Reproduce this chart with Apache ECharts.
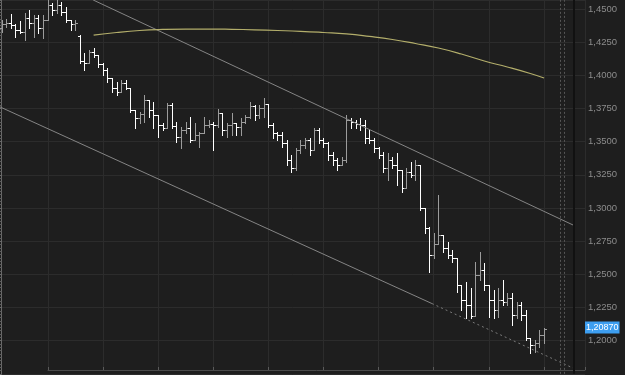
<!DOCTYPE html>
<html>
<head>
<meta charset="utf-8">
<script src="https://cdn.jsdelivr.net/npm/echarts@6.0.0/dist/echarts.min.js"></script>
<style>
    html, body { margin: 0; padding: 0; background: #1e1e1e; }
    #chart_main { width: 625px; height: 375px; }
</style>
</head>
<body>
<div id="chart_main"></div>
<script>
// bar prices (open / high / low / close), one entry per bar, left to right
var opens = [
    1.4357, 1.4387, 1.4395, 1.4380, 1.4342, 1.4327, 1.4432, 1.4395, 1.4432, 1.4357,
    1.4417, 1.4530, 1.4492, 1.4530, 1.4477, 1.4417, 1.4387, 1.4297, 1.4108, 1.4093,
    1.4176, 1.4153, 1.4086, 1.4040, 1.3980, 1.3905, 1.3875, 1.3942, 1.3905, 1.3739,
    1.3679, 1.3709, 1.3814, 1.3739, 1.3701, 1.3626, 1.3603, 1.3777, 1.3618, 1.3535,
    1.3588, 1.3603, 1.3513, 1.3550, 1.3566, 1.3626, 1.3633, 1.3626, 1.3716, 1.3588,
    1.3626, 1.3641, 1.3611, 1.3648, 1.3686, 1.3769, 1.3701, 1.3754, 1.3784, 1.3626,
    1.3566, 1.3550, 1.3490, 1.3362, 1.3302, 1.3437, 1.3475, 1.3513, 1.3437, 1.3588,
    1.3513, 1.3490, 1.3400, 1.3362, 1.3324, 1.3362, 1.3663, 1.3648, 1.3633, 1.3626,
    1.3528, 1.3513, 1.3453, 1.3400, 1.3302, 1.3362, 1.3324, 1.3287, 1.3151, 1.3272,
    1.3249, 1.3324, 1.3000, 1.2850, 1.2646, 1.2729, 1.2797, 1.2699, 1.2646, 1.2623,
    1.2420, 1.2307, 1.2269, 1.2186, 1.2495, 1.2533, 1.2420, 1.2307, 1.2231, 1.2307,
    1.2292, 1.2322, 1.2194, 1.2269, 1.2194, 1.2020, 1.1966, 1.1981, 1.2043
];
var highs = [
    1.4417, 1.4425, 1.4462, 1.4387, 1.4410, 1.4470, 1.4492, 1.4455, 1.4455, 1.4455,
    1.4565, 1.4545, 1.4565, 1.4553, 1.4515, 1.4417, 1.4417, 1.4304, 1.4168, 1.4191,
    1.4206, 1.4153, 1.4093, 1.4055, 1.3980, 1.3950, 1.3965, 1.3965, 1.3905, 1.3739,
    1.3724, 1.3852, 1.3814, 1.3799, 1.3701, 1.3641, 1.3792, 1.3792, 1.3648, 1.3611,
    1.3648, 1.3686, 1.3641, 1.3573, 1.3686, 1.3663, 1.3648, 1.3746, 1.3716, 1.3641,
    1.3716, 1.3641, 1.3679, 1.3701, 1.3799, 1.3777, 1.3777, 1.3829, 1.3784, 1.3641,
    1.3573, 1.3573, 1.3513, 1.3400, 1.3453, 1.3513, 1.3528, 1.3528, 1.3603, 1.3603,
    1.3528, 1.3498, 1.3422, 1.3377, 1.3385, 1.3701, 1.3679, 1.3663, 1.3679, 1.3663,
    1.3588, 1.3528, 1.3460, 1.3422, 1.3415, 1.3385, 1.3415, 1.3287, 1.3302, 1.3347,
    1.3362, 1.3324, 1.3000, 1.2857, 1.2812, 1.3098, 1.2797, 1.2744, 1.2684, 1.2623,
    1.2420, 1.2442, 1.2397, 1.2593, 1.2669, 1.2586, 1.2420, 1.2382, 1.2397, 1.2457,
    1.2360, 1.2360, 1.2292, 1.2292, 1.2231, 1.2020, 1.2005, 1.2080, 1.2096
];
var lows = [
    1.4327, 1.4364, 1.4357, 1.4289, 1.4319, 1.4266, 1.4357, 1.4289, 1.4319, 1.4281,
    1.4417, 1.4455, 1.4470, 1.4455, 1.4402, 1.4342, 1.4342, 1.4093, 1.4040, 1.4093,
    1.4138, 1.4063, 1.4003, 1.3950, 1.3875, 1.3852, 1.3875, 1.3897, 1.3724, 1.3603,
    1.3641, 1.3648, 1.3686, 1.3603, 1.3535, 1.3588, 1.3603, 1.3603, 1.3498, 1.3453,
    1.3566, 1.3498, 1.3513, 1.3460, 1.3566, 1.3611, 1.3437, 1.3611, 1.3550, 1.3535,
    1.3550, 1.3550, 1.3550, 1.3641, 1.3679, 1.3663, 1.3679, 1.3686, 1.3611, 1.3528,
    1.3513, 1.3460, 1.3324, 1.3272, 1.3287, 1.3415, 1.3453, 1.3400, 1.3437, 1.3490,
    1.3460, 1.3362, 1.3324, 1.3287, 1.3324, 1.3347, 1.3603, 1.3603, 1.3588, 1.3490,
    1.3490, 1.3422, 1.3377, 1.3272, 1.3211, 1.3302, 1.3174, 1.3121, 1.3151, 1.3234,
    1.3211, 1.2985, 1.2812, 1.2518, 1.2623, 1.2729, 1.2669, 1.2623, 1.2593, 1.2367,
    1.2231, 1.2171, 1.2171, 1.2186, 1.2457, 1.2382, 1.2179, 1.2171, 1.2179, 1.2269,
    1.2269, 1.2119, 1.2171, 1.2156, 1.2005, 1.1907, 1.1914, 1.1951, 1.1981
];
var closes = [
    1.4387, 1.4395, 1.4380, 1.4342, 1.4327, 1.4432, 1.4395, 1.4432, 1.4357, 1.4417,
    1.4530, 1.4492, 1.4530, 1.4477, 1.4417, 1.4387, 1.4395, 1.4108, 1.4093, 1.4176,
    1.4153, 1.4086, 1.4040, 1.3980, 1.3905, 1.3875, 1.3942, 1.3905, 1.3739, 1.3679,
    1.3709, 1.3814, 1.3739, 1.3701, 1.3626, 1.3603, 1.3777, 1.3618, 1.3535, 1.3588,
    1.3603, 1.3513, 1.3550, 1.3566, 1.3626, 1.3633, 1.3626, 1.3716, 1.3588, 1.3626,
    1.3641, 1.3611, 1.3648, 1.3686, 1.3769, 1.3701, 1.3754, 1.3784, 1.3626, 1.3566,
    1.3550, 1.3490, 1.3362, 1.3302, 1.3437, 1.3475, 1.3513, 1.3437, 1.3588, 1.3513,
    1.3490, 1.3400, 1.3362, 1.3324, 1.3362, 1.3663, 1.3648, 1.3633, 1.3626, 1.3528,
    1.3513, 1.3453, 1.3400, 1.3302, 1.3362, 1.3324, 1.3287, 1.3151, 1.3272, 1.3249,
    1.3324, 1.3000, 1.2850, 1.2646, 1.2729, 1.2797, 1.2699, 1.2646, 1.2623, 1.2420,
    1.2307, 1.2269, 1.2186, 1.2495, 1.2533, 1.2420, 1.2307, 1.2231, 1.2307, 1.2292,
    1.2322, 1.2194, 1.2269, 1.2194, 1.2020, 1.1966, 1.1981, 1.2043, 1.2087
];

// moving average (bar index, value)
var maIndex = [20, 25, 30, 35, 40, 45, 50, 55, 60, 65, 70, 75, 80, 85, 90, 95, 100, 105, 110, 115, 118];
var maValues = [1.4303, 1.4323, 1.4338, 1.4346, 1.4349, 1.4349, 1.4347, 1.4343, 1.4338, 1.4332,
    1.4323, 1.4312, 1.4293, 1.4270, 1.4240, 1.4206, 1.4161, 1.4108, 1.4063, 1.4014, 1.3980];

// channel lines, [bar position, price]
var upperTrend = [[19.9, 1.4568], [124.3, 1.2872]];
var lowerTrend = [[-0.37, 1.3762], [93.6, 1.2280]];
var lowerTrendExt = [[93.6, 1.2280], [124.3, 1.1794]];

var lastPrice = 1.2087;
var priceTicks = { min: 1.175, max: 1.45678, step: 0.025 };

var upColor = '#9c9c9c';
var downColor = '#ffffff';

initChart();

function initChart() {
    var myChart = echarts.init(document.getElementById('chart_main'));

    var bars = [];
    for (var i = 0; i < closes.length; i++) {
        bars.push([i, opens[i], highs[i], lows[i], closes[i]]);
    }
    var ma = [];
    for (var j = 0; j < maIndex.length; j++) {
        ma.push([maIndex[j], maValues[j]]);
    }

    function renderOhlc(params, api) {
        var x = api.value(0);
        var o = api.coord([x, api.value(1)]);
        var h = api.coord([x, api.value(2)]);
        var l = api.coord([x, api.value(3)]);
        var c = api.coord([x, api.value(4)]);
        var color = api.value(4) >= api.value(1) ? upColor : downColor;
        var px = Math.round(o[0]) + 0.5;
        var oy = Math.round(o[1]) + 0.5;
        var cy = Math.round(c[1]) + 0.5;
        var st = { stroke: color, lineWidth: 1 };
        return {
            type: 'group',
            children: [
                { type: 'line', shape: { x1: px, y1: Math.round(h[1]), x2: px, y2: Math.round(l[1]) + 1 }, style: st },
                { type: 'line', shape: { x1: px - 2.5, y1: oy, x2: px, y2: oy }, style: st },
                { type: 'line', shape: { x1: px, y1: cy, x2: px + 2.5, y2: cy }, style: st }
            ]
        };
    }

    var option = {
        backgroundColor: '#1e1e1e',
        animation: false,
        grid: [
            { left: 0, right: 40, top: 0, bottom: 1.13 },
            { left: 48, right: 40, top: 0, bottom: 5 }
        ],
        xAxis: [
            { type: 'value', gridIndex: 0, min: -0.37, max: 126.9, show: false },
            {
                type: 'value', gridIndex: 1, min: 0, max: 9.746, interval: 1,
                axisLine: { show: true, lineStyle: { color: '#4a4a4a' } },
                axisTick: { show: true, inside: true, length: 3, lineStyle: { color: '#5a5a5a' } },
                axisLabel: { show: false },
                splitLine: { show: true, lineStyle: { color: '#2c2c2c' } }
            }
        ],
        yAxis: [
            {
                type: 'value', gridIndex: 0, position: 'right',
                min: priceTicks.min, max: priceTicks.max, interval: priceTicks.step,
                axisLine: { show: true, lineStyle: { color: '#6a6a6a' } },
                axisTick: { show: true, inside: true, length: 11, lineStyle: { color: '#6a6a6a' } },
                minorTick: { show: true, splitNumber: 10, length: 4, lineStyle: { color: '#5c5c5c' } },
                splitLine: { show: true, lineStyle: { color: '#2c2c2c' } },
                axisLabel: {
                    margin: 3,
                    color: '#8c8c8c',
                    fontFamily: 'Liberation Sans',
                    fontSize: 9.5,
                    formatter: function (v) {
                        if (v < 1.19 || v > 1.455) return '';
                        return v.toFixed(4).replace('.', ',');
                    }
                }
            },
            { type: 'value', gridIndex: 1, min: 0, max: 1, show: false }
        ],
        series: [
            {
                type: 'line', xAxisIndex: 0, yAxisIndex: 0, data: upperTrend,
                symbol: 'none', silent: true,
                lineStyle: { color: '#858585', width: 1 }
            },
            {
                type: 'line', xAxisIndex: 0, yAxisIndex: 0, data: lowerTrend,
                symbol: 'none', silent: true,
                lineStyle: { color: '#858585', width: 1 }
            },
            {
                type: 'line', xAxisIndex: 0, yAxisIndex: 0, data: lowerTrendExt,
                symbol: 'none', silent: true,
                lineStyle: { color: '#7a7a7a', width: 1, type: [2, 3] }
            },
            {
                type: 'line', xAxisIndex: 0, yAxisIndex: 0, data: ma,
                symbol: 'none', smooth: true, silent: true,
                lineStyle: { color: '#b3ae6b', width: 1.2 }
            },
            {
                type: 'custom', xAxisIndex: 0, yAxisIndex: 0,
                renderItem: renderOhlc,
                data: bars,
                encode: { x: 0, y: [1, 2, 3, 4] },
                markLine: {
                    silent: true,
                    symbol: 'none',
                    data: [
                        { xAxis: 121.5, lineStyle: { color: '#555', type: [2, 2], width: 1 }, label: { show: false } },
                        { xAxis: 122.4, lineStyle: { color: '#555', type: [2, 2], width: 1 }, label: { show: false } },
                        { xAxis: 124.4, lineStyle: { color: '#111', type: 'solid', width: 2 }, label: { show: false } },
                        {
                            yAxis: lastPrice,
                            lineStyle: { color: 'rgba(0,0,0,0)', width: 1 },
                            label: {
                                show: true,
                                position: 'end',
                                distance: 0,
                                formatter: lastPrice.toFixed(5).replace('.', ','),
                                backgroundColor: '#3d9ef0',
                                color: '#ffffff',
                                fontFamily: 'Liberation Sans',
                                fontSize: 9,
                                padding: [2, 1, 1, 1]
                            }
                        }
                    ]
                }
            }
        ]
    };

    myChart.setOption(option);
}
</script>
</body>
</html>
